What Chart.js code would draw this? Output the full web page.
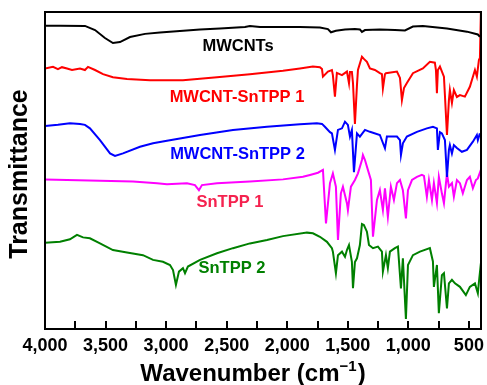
<!DOCTYPE html>
<html><head><meta charset="utf-8">
<script src="https://cdn.jsdelivr.net/npm/chart.js@4/dist/chart.umd.min.js"></script>
<style>html,body{margin:0;padding:0;background:#fff;overflow:hidden}#wrap{width:487px;height:385px}</style>
</head><body><div id="wrap"><canvas id="c" width="487" height="385"></canvas></div>
<script>
// Wavenumber (cm-1) and relative transmittance (a.u., stacked/offset traces)
const mwcntWn = [4000,3876,3670,3587,3505,3439,3381,3298,3174,3051,2886,2720,2555,2349,2308,2225,1895,1730,1664,1639,1598,1523,1441,1400,1383,1358,1235,1111,1028,962,880,681,516,426,409];
const mwcntT  = [95.7,95.7,95.6,94.3,91.8,90.2,90.5,92.1,93.1,93.5,94.0,94.5,94.8,95.3,95.6,95.3,95.3,95.1,94.6,93.6,94.1,94.5,94.6,94.5,93.7,94.3,94.5,94.3,94.2,95.4,95.6,94.8,93.8,92.9,92.2];

const m1Wn = [4000,3934,3893,3860,3818,3777,3711,3670,3645,3587,3521,3439,3323,3133,2861,2580,2308,2035,1895,1788,1730,1713,1705,1664,1631,1623,1606,1590,1548,1507,1490,1482,1466,1457,1441,1424,1416,1383,1367,1342,1317,1276,1235,1218,1210,1193,1185,1094,1069,1053,1036,1012,962,880,822,781,772,764,756,739,706,698,681,665,657,640,624,599,574,533,492,450,434,417,409,401];
const m1T  = [82.2,82.7,82.0,82.6,82.2,81.7,82.2,81.7,82.7,81.7,80.4,79.4,78.9,78.5,78.5,79.4,80.4,81.5,82.2,82.8,82.6,82.0,79.6,81.2,81.7,80.1,73.3,80.8,80.1,81.2,77.5,81.1,81.1,77.6,64.7,77.0,81.7,85.9,85.2,84.3,82.2,81.7,80.7,80.4,75.9,80.4,80.7,81.2,79.2,72.2,76.0,77.6,80.7,82.2,84.3,84.0,81.7,74.4,81.7,82.8,79.6,73.8,61.2,72.2,75.4,71.3,75.4,73.2,73.8,73.3,76.4,81.7,79.6,84.9,85.5,100];

const m2Wn = [4000,3893,3794,3711,3670,3629,3546,3463,3422,3356,3216,3108,2993,2720,2448,2167,1895,1755,1713,1689,1647,1631,1606,1581,1548,1523,1499,1482,1466,1449,1424,1400,1358,1317,1235,1193,1177,1094,1069,1061,1045,1012,929,847,797,764,756,739,723,698,681,665,657,640,624,599,558,516,467,434,426,409];
const m2T  = [64.0,64.4,64.9,64.7,64.4,63.3,59.6,55.4,54.6,55.4,57.5,58.6,59.4,61.2,62.8,63.8,64.6,64.9,64.7,63.8,62.1,61.7,56.5,62.8,63.3,65.4,64.4,60.7,62.8,49.5,61.7,60.7,62.8,62.2,61.2,57.0,60.7,60.7,59.6,54.9,58.6,60.7,62.2,63.3,63.8,63.3,56.5,62.1,61.7,59.6,48.0,56.5,58.0,55.4,58.0,57.1,55.9,56.5,59.1,61.2,59.6,61.7];

const s1Wn = [4000,3818,3546,3274,3075,2993,2828,2762,2729,2704,2580,2308,2035,1870,1812,1746,1705,1680,1647,1623,1598,1581,1557,1540,1507,1499,1474,1441,1416,1383,1375,1358,1334,1309,1292,1259,1235,1210,1193,1169,1144,1119,1094,1069,1045,1020,1003,970,929,888,871,847,830,805,789,764,748,723,706,681,665,640,624,599,574,550,516,492,467,442,426,401];
const s1T  = [47.2,47.0,46.8,46.5,46.0,45.7,46.0,45.4,43.8,45.4,46.0,46.5,47.2,48.0,48.6,49.3,50.2,33.3,46.0,49.1,44.9,28.1,42.8,44.9,39.7,37.5,44.9,47.0,49.1,53.3,54.9,53.3,50.2,47.0,29.1,40.7,43.8,37.5,44.4,35.4,44.9,40.7,46.0,47.0,43.8,34.9,43.8,47.0,48.0,48.6,48.3,41.7,47.0,40.7,46.0,39.7,48.0,42.8,39.7,49.1,44.9,46.0,41.7,47.0,46.0,42.8,47.0,48.0,44.4,47.0,47.5,50.2];

const s2Wn = [4000,3876,3794,3736,3686,3629,3546,3439,3323,3191,3108,3026,2968,2943,2919,2894,2861,2844,2820,2720,2580,2448,2308,2167,2035,1837,1788,1730,1672,1631,1623,1598,1581,1548,1523,1507,1490,1466,1457,1441,1424,1400,1383,1367,1342,1325,1292,1251,1218,1210,1185,1169,1152,1111,1086,1061,1045,1020,1003,962,904,822,797,789,764,748,723,706,681,665,640,615,574,525,492,450,426,417,401];
const s2T  = [27.2,27.5,28.3,29.7,28.9,28.6,27.0,24.9,24.1,23.3,21.8,21.2,20.2,18.6,13.9,18.1,19.2,17.6,19.7,21.8,23.9,25.5,27.0,28.1,29.3,30.4,30.2,29.1,27.5,25.5,24.4,17.6,23.3,24.4,22.8,24.9,26.5,21.2,12.9,21.1,22.3,26.5,33.1,32.8,30.7,26.5,25.5,26.0,24.4,18.1,23.3,19.2,24.4,25.5,26.0,12.8,22.3,3.2,20.2,23.3,24.4,25.5,21.3,13.3,20.2,5.0,17.0,17.6,6.5,14.4,15.5,14.4,13.3,10.7,13.3,14.4,11.3,14.9,20.7];

const seriesNames  = ['MWCNTs','MWCNT-SnTPP 1','MWCNT-SnTPP 2','SnTPP 1','SnTPP 2'];
const xTickValues  = [4000,3750,3500,3250,3000,2750,2500,2250,2000,1750,1500,1250,1000,750,500];
const xTitle = 'Wavenumber (cm';
const yTitle = 'Transmittance';

const FONT = "'Liberation Sans', Arial, Helvetica, sans-serif";
const lineColors  = ['#000000','#ff0000','#0000ff','#ff00ff','#008000'];
const labelColors = ['#000000','#ff0000','#0000ff','#f5224f','#008000'];
const labelPos = [[238,46],[237,97.5],[237.5,154],[230,202.5],[232,268.5]];

function pts(xs, ys){ return xs.map((x,i)=>({x:x, y:ys[i]})); }
const allWn = [mwcntWn,m1Wn,m2Wn,s1Wn,s2Wn];
const allT  = [mwcntT,m1T,m2T,s1T,s2T];

const deco = {
  id:'deco',
  afterDraw(chart){
    const {ctx, chartArea:a, scales:{x}} = chart;
    ctx.save();
    // series labels
    ctx.font = "bold 16.5px " + FONT;
    ctx.textAlign = 'center'; ctx.textBaseline = 'middle';
    seriesNames.forEach((n,i)=>{ ctx.fillStyle = labelColors[i]; ctx.fillText(n, labelPos[i][0], labelPos[i][1]); });
    // x title with superscript
    ctx.fillStyle = '#000';
    ctx.textAlign = 'left'; ctx.textBaseline = 'alphabetic';
    const mainF = "bold 24px " + FONT, supF = "bold 15px " + FONT;
    ctx.font = mainF; const w1 = ctx.measureText(xTitle).width; const w3 = ctx.measureText(')').width;
    ctx.font = supF; const w2 = ctx.measureText('\u22121').width;
    let sx = 253 - (w1+w2+w3+1)/2; const by = 381;
    ctx.font = mainF; ctx.fillText(xTitle, sx, by); sx += w1;
    ctx.font = supF; ctx.fillText('\u22121', sx, by-10); sx += w2+1;
    ctx.font = mainF; ctx.fillText(')', sx, by);
    // y title
    ctx.save();
    ctx.translate(20, 174); ctx.rotate(-Math.PI/2);
    ctx.font = "bold 25px " + FONT; ctx.textAlign = 'center'; ctx.textBaseline = 'middle';
    ctx.fillText(yTitle, 0, 0);
    ctx.restore();
    // frame and inward ticks
    ctx.fillStyle = '#000';
    const L = Math.round(a.left), R = Math.round(a.right), T = Math.round(a.top), B = Math.round(a.bottom);
    ctx.fillRect(L-1, T-1, R-L+2, 2);
    ctx.fillRect(L-1, B-1, R-L+2, 2);
    ctx.fillRect(L-1, T-1, 2, B-T+2);
    ctx.fillRect(R-1, T-1, 2, B-T+2);
    ctx.strokeStyle = '#000'; ctx.lineWidth = 2;
    xTickValues.forEach(v=>{
      const px = Math.round(x.getPixelForValue(v));
      ctx.beginPath(); ctx.moveTo(px, B); ctx.lineTo(px, B-8); ctx.stroke();
    });
    ctx.restore();
  }
};

new Chart(document.getElementById('c'), {
  type:'line',
  data:{ datasets: seriesNames.map((n,i)=>({
    label:n, data:pts(allWn[i], allT[i]), borderColor:lineColors[i], borderWidth:2,
    pointRadius:0, tension:0, fill:false
  }))},
  options:{
    responsive:false, animation:false, devicePixelRatio:1,
    layout:{padding:{top:12, right:6, left:0, bottom:0}},
    plugins:{legend:{display:false}, tooltip:{enabled:false}},
    scales:{
      x:{ type:'linear', reverse:true, min:400, max:4000,
          afterBuildTicks:(s)=>{ s.ticks = xTickValues.map(v=>({value:v})); },
          afterFit:(s)=>{ s.height = 56; s.paddingLeft = 0; s.paddingRight = 0; },
          grid:{display:false, drawTicks:false}, border:{display:false},
          ticks:{ autoSkip:false, maxRotation:0, padding:6, color:'#000',
                  font:{family:FONT, size:18, weight:'bold'},
                  callback:(v)=> (v % 500 === 0 ? Number(v).toLocaleString('en-US') : '') } },
      y:{ min:0, max:100, display:true,
          afterFit:(s)=>{ s.width = 45; },
          grid:{display:false, drawTicks:false}, border:{display:false},
          ticks:{display:false} }
    }
  },
  plugins:[deco]
});
</script></body></html>
